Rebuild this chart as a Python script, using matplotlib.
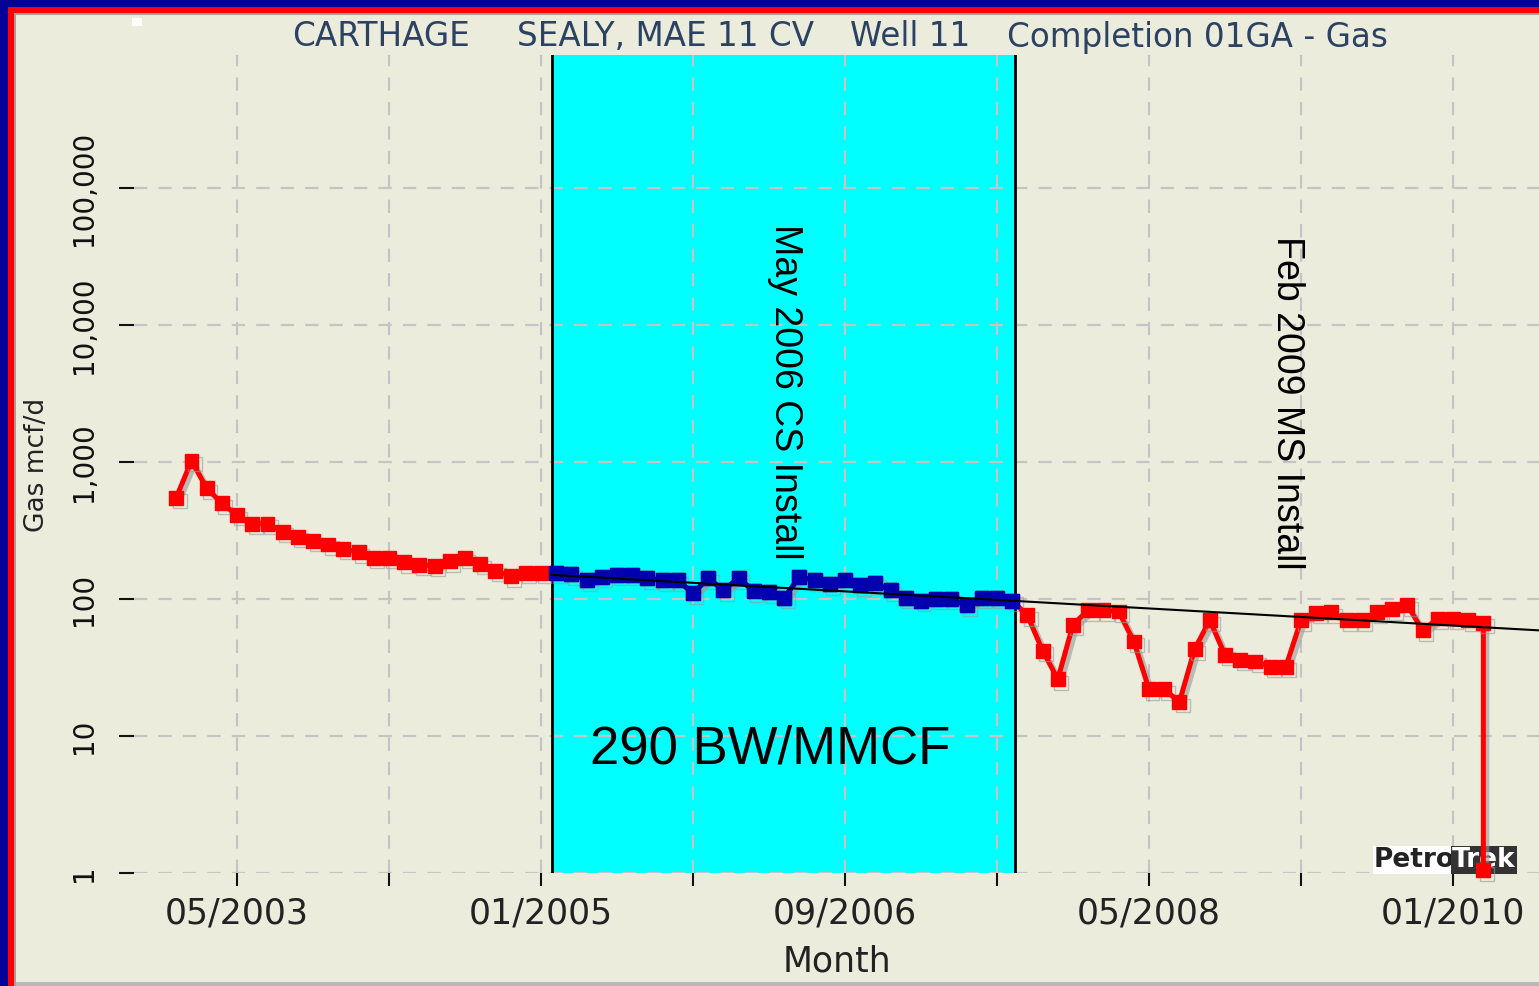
import numpy as np
import matplotlib
matplotlib.use('Agg')
import matplotlib.pyplot as plt
from matplotlib.patches import Rectangle
import matplotlib.patheffects as pe

# ---------------- data (monthly gas rate, mcf/d; month 0 = 01/2003) ----------------
red_pre = [550, 1020, 645, 500, 410, 355, 355, 310, 285, 265, 250, 233, 220,
           200, 199, 186, 177, 175, 189, 199, 180, 160, 147, 155, 155]          # 01/2003 - 01/2005
blue_mid = [155, 152, 137, 145, 150, 150, 142, 137, 137, 110, 142, 116, 142,
            114, 112, 102, 145, 137, 128, 137, 126, 130, 116, 102, 97, 100,
            100, 90, 102, 102, 97]                                            # 02/2005 - 08/2007
red_post = [76, 42, 26, 65, 83, 83, 81, 49, 22, 22, 17.7, 43, 70, 39, 36, 35,
            32, 32, 70, 79, 80, 70, 70, 80, 84, 90, 59, 72, 72, 70, 67]      # 09/2007 - 03/2010
final_drop = 1.05
trend_months = [24.7, 89.7]
trend_values = [150, 59]
cs_span = (24.7, 55.2)
major_ticks = [4, 24, 44, 64, 84]
major_labels = ['05/2003', '01/2005', '09/2006', '05/2008', '01/2010']
minor_ticks = [14, 34, 54, 74]
y_ticks = [1, 10, 100, 1000, 10000, 100000]
y_labels = ['1', '10', '100', '1,000', '10,000', '100,000']
title_parts = ['CARTHAGE', 'SEALY, MAE 11 CV', 'Well 11', 'Completion 01GA - Gas']
title_x = [292, 517, 850, 1007]

W, H = 1539, 986
BG = '#ECECDD'

all_vals = red_pre + blue_mid + red_post + [final_drop]
months = np.arange(len(red_pre) + len(blue_mid) + len(red_post))
months_all = np.append(months, months[-1])
blue_m = months[len(red_pre):len(red_pre) + len(blue_mid)]

fig = plt.figure(figsize=(W / 100, H / 100), dpi=100, facecolor=BG)
ax = fig.add_axes([134 / W, (H - 873) / H, (W - 134) / W, (873 - 55) / H])
ax.set_facecolor(BG)
ax.set_yscale('log')
ax.set_xlim(-2.78, 89.66)
ax.set_ylim(1, 10 ** 5.971)

for s in ax.spines.values():
    s.set_visible(False)

ax.set_axisbelow(True)
ax.set_xticks(major_ticks)
ax.set_xticklabels(major_labels)
ax.set_xticks(minor_ticks, minor=True)
ax.set_yticks(y_ticks)
ax.set_yticklabels(y_labels, rotation=90, va='center')
ax.yaxis.set_minor_locator(matplotlib.ticker.NullLocator())
ax.tick_params(axis='x', which='both', direction='out', length=9, width=1.5,
               color='#111111', pad=8, labelsize=25, labelcolor='#222222')
ax.tick_params(axis='y', which='both', direction='out', length=11, width=1.5,
               color='#111111', pad=15, labelsize=20, labelcolor='#111111')
ax.grid(True, which='both', axis='x', color='#C4C4C4', linestyle=(0, (6, 5)), linewidth=1.6)
ax.grid(True, which='major', axis='y', color='#C4C4C4', linestyle=(0, (6, 5)), linewidth=1.6)

# highlighted period
ax.axvspan(cs_span[0], cs_span[1], color='#00FFFF', zorder=0.2, lw=0)
for xv in cs_span:
    ax.axvline(xv, color='black', lw=2, zorder=2.5)

shadow = [pe.SimpleLineShadow(offset=(2.5, -2.5), shadow_color='#999999', alpha=0.6), pe.Normal()]
ax.plot(months_all, all_vals, color='#FF0000', lw=3.6, marker='s', ms=10,
        mec='#FF0000', zorder=4, path_effects=shadow, clip_on=False)
ax.plot(blue_m, blue_mid, color='#0000B0', lw=3.6, marker='s', ms=10,
        mec='#0000B0', zorder=5)
ax.plot(trend_months, trend_values, color='black', lw=1.5, zorder=6)

ax.set_xlabel('Month', fontsize=25, color='#222222', labelpad=10)
fig.text(37 / W, 1 - 465 / H, 'Gas mcf/d', fontsize=19, color='#222222',
         rotation=90, ha='center', va='center')

# annotations
ann_font = ['Liberation Sans', 'DejaVu Sans']
fig.text(785 / W, 1 - 392 / H, 'May 2006 CS Install', rotation=-90, fontsize=27,
         family=ann_font, ha='center', va='center', color='black')
fig.text(1287 / W, 1 - 403 / H, 'Feb 2009 MS Install', rotation=-90, fontsize=27,
         family=ann_font, ha='center', va='center', color='black')
fig.text(770 / W, 1 - 750 / H, '290 BW/MMCF', fontsize=38, family=ann_font,
         ha='center', va='center', color='black')

# title
for t, xp in zip(title_parts, title_x):
    fig.text(xp / W, 1 - 37 / H, t, fontsize=23.5, color='#2B4262', ha='left', va='center')

# logo (drawn beneath the red series)
ax.text(1374 / W, 1 - 860 / H, 'Petro', fontsize=19, weight='bold', color='#222222',
        ha='left', va='center', zorder=3, transform=fig.transFigure, clip_on=False,
        bbox=dict(boxstyle='square,pad=0.05', fc='white', ec='none'))
ax.text(1452 / W, 1 - 860 / H, 'Trek', fontsize=19, weight='bold', color='white',
        ha='left', va='center', zorder=3, transform=fig.transFigure, clip_on=False,
        bbox=dict(boxstyle='square,pad=0.05', fc='#333333', ec='none'))

# window frame
def frect(x0, y0, w, h, c):
    fig.patches.append(Rectangle((x0 / W, 1 - (y0 + h) / H), w / W, h / H,
                                 transform=fig.transFigure, facecolor=c,
                                 edgecolor='none', zorder=10))

frect(0, 0, W, 7, '#000099')
frect(0, 0, 8, H, '#000099')
frect(8, 7, W - 8, 6, '#FF0000')
frect(8, 7, 6, H - 7, '#FF0000')
frect(14, 13, W - 14, 2, '#A0A0A0')
frect(14, 13, 2, H - 13, '#A0A0A0')
frect(16, 982, W - 16, 4, '#B8B8B8')
frect(132, 18, 10, 8, 'white')

fig.savefig('out.png', dpi=100, facecolor=BG)
